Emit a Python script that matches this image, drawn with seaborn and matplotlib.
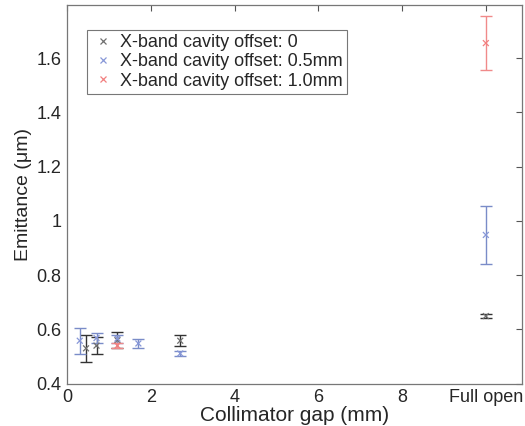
import numpy as np
import pandas as pd
import matplotlib
matplotlib.use("Agg")
import matplotlib.pyplot as plt
import seaborn as sns

# Data (x = collimator gap in mm; 10 stands for "Full open")
x_off0 = [0.45, 0.7, 1.2, 2.7, 10.0]
y_off0 = [0.530, 0.540, 0.560, 0.558, 0.649]
e_off0 = [0.050, 0.030, 0.030, 0.020, 0.007]

x_off05 = [0.3, 0.7, 1.2, 1.7, 2.7, 10.0]
y_off05 = [0.558, 0.568, 0.566, 0.548, 0.511, 0.948]
e_off05 = [0.048, 0.020, 0.015, 0.018, 0.008, 0.108]

x_off10 = [1.2, 10.0]
y_off10 = [0.540, 1.655]
e_off10 = [0.010, 0.100]

labels = ["X-band cavity offset: 0", "X-band cavity offset: 0.5mm", "X-band cavity offset: 1.0mm"]
xticks = [0, 2, 4, 6, 8, 10]
xticklabels = ["0", "2", "4", "6", "8", "Full open"]
yticks = [0.4, 0.6, 0.8, 1.0, 1.2, 1.4, 1.6]
yticklabels = ["0.4", "0.6", "0.8", "1", "1.2", "1.4", "1.6"]

sns.set_style("white")
plt.rcParams['font.family'] = ['Liberation Sans', 'DejaVu Sans']

df = pd.concat([
    pd.DataFrame({"x": x_off0, "y": y_off0, "e": e_off0, "series": labels[0]}),
    pd.DataFrame({"x": x_off05, "y": y_off05, "e": e_off05, "series": labels[1]}),
    pd.DataFrame({"x": x_off10, "y": y_off10, "e": e_off10, "series": labels[2]}),
], ignore_index=True)

marker_colors = {labels[0]: "#707070", labels[1]: "#8898d8", labels[2]: "#f28080"}
bar_colors = {labels[0]: "#333333", labels[1]: "#7a8cc8", labels[2]: "#f08a8a"}

fig = plt.figure(figsize=(5.25, 4.26), dpi=100)
ax = fig.add_axes([0.128, 0.0995, 0.866, 0.8885])

for lab in labels:
    sub = df[df["series"] == lab]
    ax.errorbar(sub["x"], sub["y"], yerr=sub["e"], fmt="none",
                ecolor=bar_colors[lab], elinewidth=1.0, capsize=4, capthick=1.0, zorder=2)

sns.scatterplot(data=df, x="x", y="y", hue="series", palette=marker_colors,
                marker="x", s=18, linewidth=0.9, ax=ax, zorder=3)

ax.set_xlim(0, 10.86)
ax.set_ylim(0.4, 1.795)
ax.set_xticks(xticks)
ax.set_xticklabels(xticklabels)
ax.set_yticks(yticks)
ax.set_yticklabels(yticklabels)
ax.tick_params(direction="in", length=4, width=0.8, color="#555555",
               top=True, right=True, labelsize=13, pad=4)
for s in ax.spines.values():
    s.set_color("#777777")
    s.set_linewidth(0.9)

ax.set_xlabel("Collimator gap (mm)", fontsize=15, labelpad=0)
ax.set_ylabel("Emittance (\u03bcm)", fontsize=14, labelpad=3)

leg = ax.legend(loc="upper left", bbox_to_anchor=(0.043, 0.935), fontsize=13,
                frameon=True, fancybox=False, edgecolor="#555555", handletextpad=0.3,
                handlelength=1.3, borderpad=0.25, labelspacing=0.12, markerscale=1.0,
                borderaxespad=0)
leg.get_frame().set_linewidth(0.8)

fig.savefig("out.png", dpi=100)
